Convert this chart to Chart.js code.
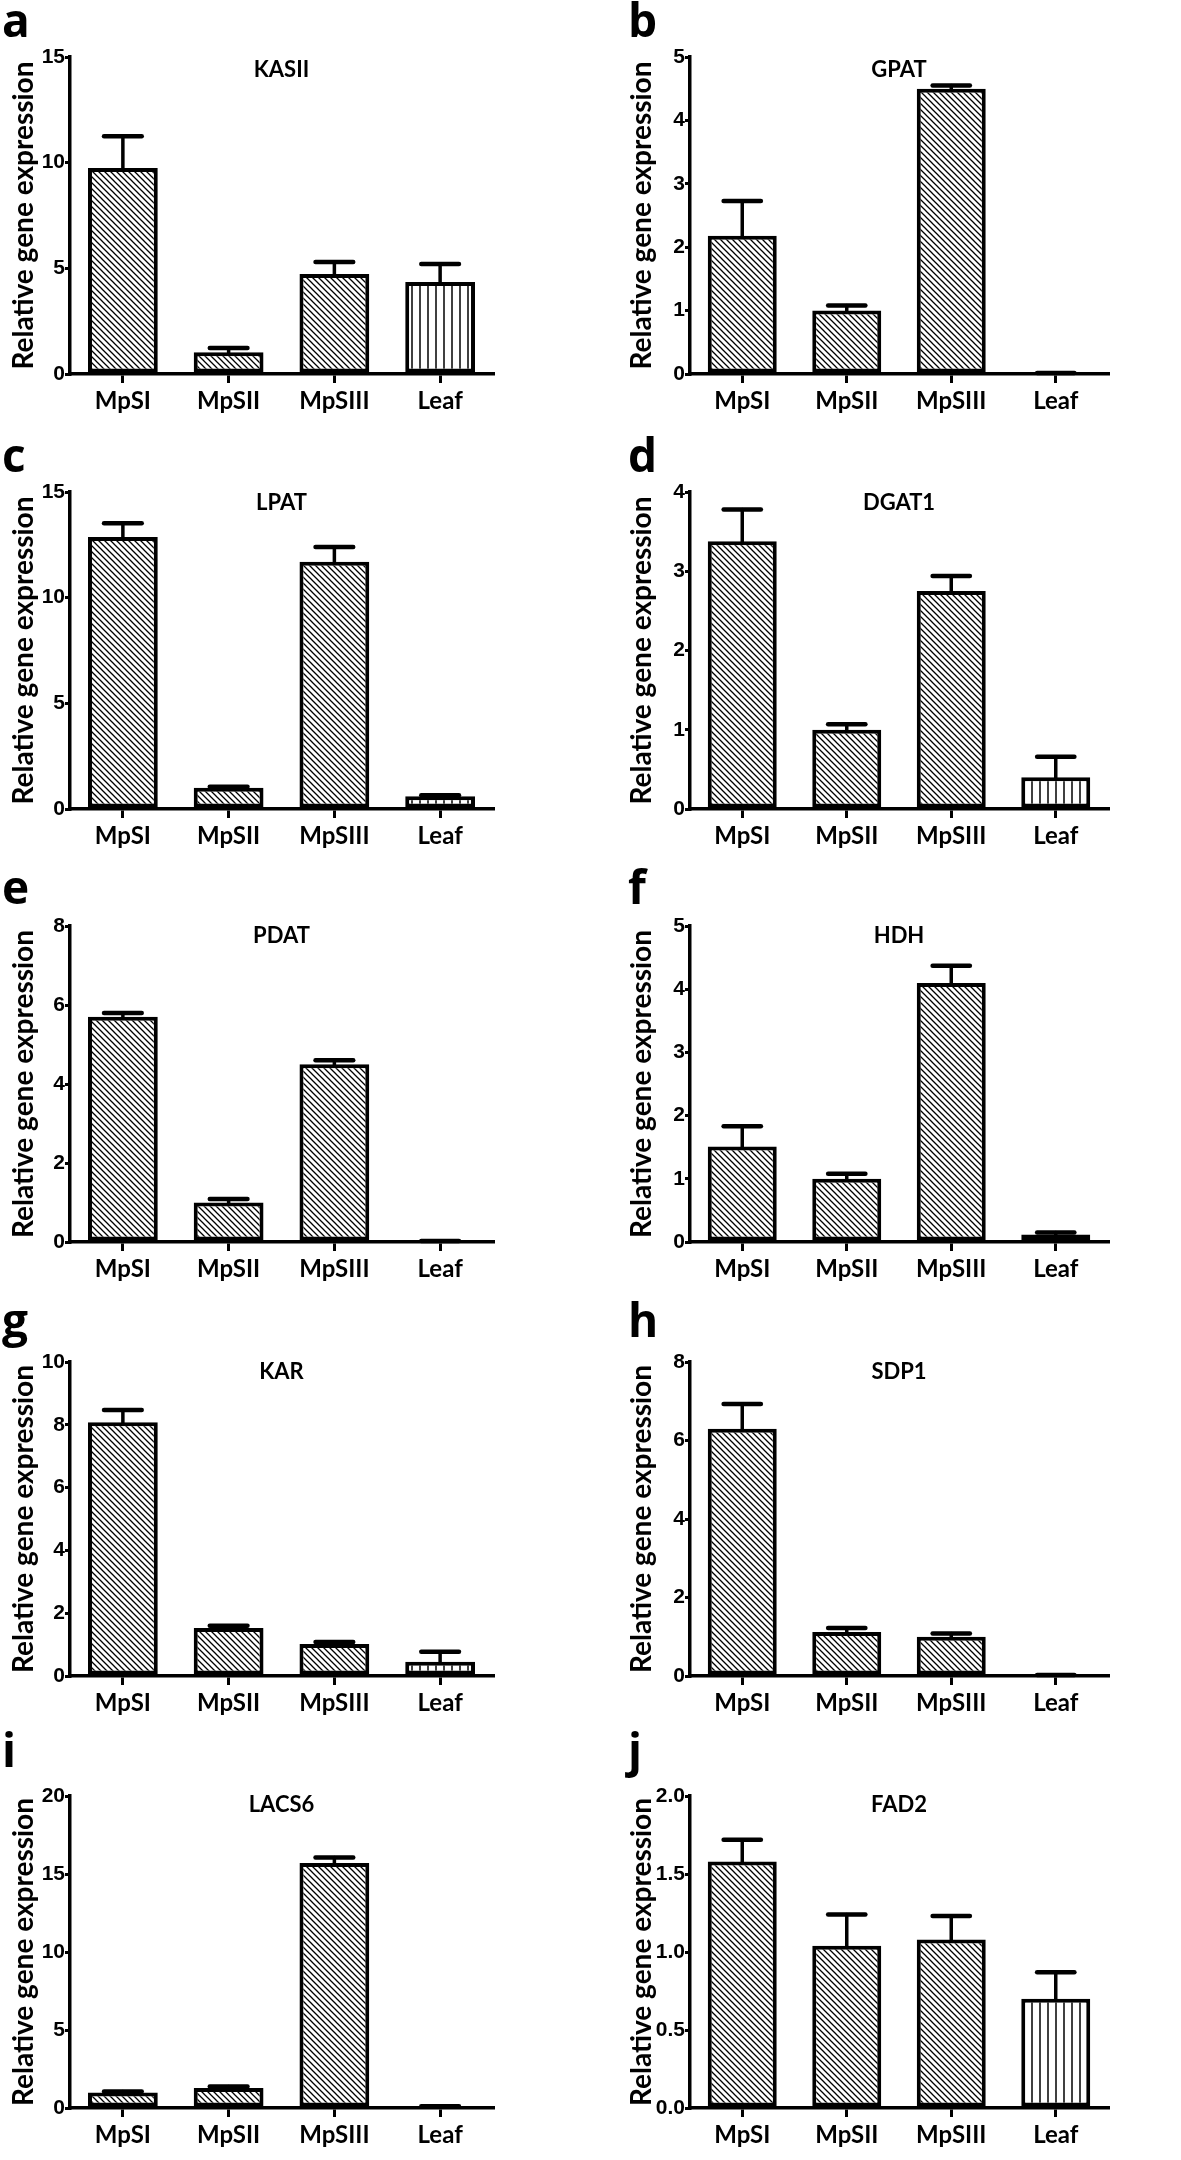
<!DOCTYPE html>
<html>
<head>
<meta charset="utf-8">
<script src="https://cdn.jsdelivr.net/npm/chart.js@4.4.0/dist/chart.umd.min.js"></script>
<style>
  html, body { margin: 0; padding: 0; background: #fff; }
  #page { position: relative; width: 1181px; height: 2160px; overflow: hidden; background: #fff; }
  #page canvas { position: absolute; }
</style>
</head>
<body>
<div id="page"></div>
<script>
// categories
const groups = ['MpSI', 'MpSII', 'MpSIII', 'Leaf'];

// mean relative expression and error (upper bar) per gene
const kasii = [9.75, 1.03, 4.73, 4.35];
const kasiiErr = [1.5, 0.2, 0.57, 0.85];
const gpat = [2.18, 1.0, 4.5, 0.01];
const gpatErr = [0.55, 0.08, 0.05, 0.005];
const lpat = [12.87, 1.0, 11.7, 0.6];
const lpatErr = [0.65, 0.05, 0.7, 0.05];
const dgat1 = [3.38, 1.0, 2.75, 0.4];
const dgat1Err = [0.4, 0.07, 0.19, 0.26];
const pdat = [5.7, 1.0, 4.5, 0.02];
const pdatErr = [0.1, 0.09, 0.1, 0.005];
const hdh = [1.51, 1.0, 4.1, 0.12];
const hdhErr = [0.32, 0.08, 0.27, 0.03];
const kar = [8.08, 1.53, 1.02, 0.45];
const karErr = [0.39, 0.07, 0.06, 0.32];
const sdp1 = [6.3, 1.12, 1.0, 0.02];
const sdp1Err = [0.63, 0.1, 0.08, 0.005];
const lacs6 = [1.0, 1.28, 15.7, 0.1];
const lacs6Err = [0.05, 0.1, 0.35, 0.02];
const fad2 = [1.58, 1.04, 1.08, 0.7];
const fad2Err = [0.14, 0.2, 0.15, 0.17];

const genes = ['KASII', 'GPAT', 'LPAT', 'DGAT1', 'PDAT', 'HDH', 'KAR', 'SDP1', 'LACS6', 'FAD2'];
const letters = ['a', 'b', 'c', 'd', 'e', 'f', 'g', 'h', 'i', 'j'];
const means = [kasii, gpat, lpat, dgat1, pdat, hdh, kar, sdp1, lacs6, fad2];
const errs = [kasiiErr, gpatErr, lpatErr, dgat1Err, pdatErr, hdhErr, karErr, sdp1Err, lacs6Err, fad2Err];

// y axis ranges / tick steps
const yMax = [15, 5, 15, 4, 8, 5, 10, 8, 20, 2];
const yStep = [5, 1, 5, 1, 2, 1, 2, 2, 5, 0.5];
const yDecimals = [0, 0, 0, 0, 0, 0, 0, 0, 0, 1];

// layout of the 5 rows (page pixels)
const rowPlotTop = [57, 492, 926, 1362, 1796];
const rowPlotBottom = [374, 809, 1242, 1676, 2108];
const rowLetterBase = [37, 472, 904, 1337, 1767];
const rowTitleOffset = [20, 18, 17, 17, 16];

function hatchPattern(kind) {
  const c = document.createElement('canvas');
  const s = kind === 'diag' ? 6 : 8;
  c.width = s; c.height = s;
  const g = c.getContext('2d');
  g.fillStyle = '#fff';
  g.fillRect(0, 0, s, s);
  g.strokeStyle = '#000';
  g.lineWidth = kind === 'diag' ? 1.3 : 1.5;
  g.beginPath();
  if (kind === 'diag') {
    g.moveTo(-1, -1); g.lineTo(s + 1, s + 1);
    g.moveTo(-1, s - 1); g.lineTo(1, s + 1);
    g.moveTo(s - 1, -1); g.lineTo(s + 1, 1);
  } else {
    g.moveTo(s / 2, 0); g.lineTo(s / 2, s);
  }
  g.stroke();
  return g.createPattern(c, 'repeat');
}

const errorBars = {
  id: 'errorBars',
  afterDatasetsDraw(chart) {
    const ds = chart.data.datasets[0];
    const meta = chart.getDatasetMeta(0);
    const y = chart.scales.y;
    const ctx = chart.ctx;
    ctx.save();
    ctx.strokeStyle = '#000';
    ctx.lineCap = 'round';
    meta.data.forEach((bar, i) => {
      const top = y.getPixelForValue(ds.data[i] + ds.errors[i]);
      const half = bar.width * 0.27;
      ctx.lineWidth = 3.5;
      ctx.beginPath();
      ctx.moveTo(bar.x, bar.y);
      ctx.lineTo(bar.x, top);
      ctx.stroke();
      ctx.lineWidth = 4.5;
      ctx.beginPath();
      ctx.moveTo(bar.x - half, top);
      ctx.lineTo(bar.x + half, top);
      ctx.stroke();
    });
    ctx.restore();
  }
};

const panelText = {
  id: 'panelText',
  afterDraw(chart, args, opts) {
    const { ctx, chartArea } = chart;
    ctx.save();
    ctx.fillStyle = '#000';
    ctx.textBaseline = 'alphabetic';
    ctx.textAlign = 'left';
    ctx.font = 'bold 46px "Open Sans"';
    ctx.fillText(opts.letter, opts.letterX, opts.letterY);
    ctx.textAlign = 'center';
    ctx.font = 'bold 22px Lato';
    ctx.fillText(opts.gene, (chartArea.left + chartArea.right) / 2, chartArea.top + opts.titleOffset);
    ctx.restore();
  }
};

const TOP_PAD = 80;

function makePanel(i) {
  const row = Math.floor(i / 2);
  const col = i % 2;
  const plotH = rowPlotBottom[row] - rowPlotTop[row];
  const top = rowPlotTop[row] - TOP_PAD;
  const left = col ? 620 : 0;
  const axisW = 70;
  const plotW = col ? 418 : 423;
  const W = 561;
  const H = TOP_PAD + plotH + 56;

  const cv = document.createElement('canvas');
  cv.width = W; cv.height = H;
  cv.style.left = left + 'px';
  cv.style.top = top + 'px';
  cv.style.width = W + 'px';
  cv.style.height = H + 'px';
  document.getElementById('page').appendChild(cv);

  const diag = hatchPattern('diag');
  const vert = hatchPattern('vert');

  new Chart(cv, {
    type: 'bar',
    data: {
      labels: groups,
      datasets: [{
        data: means[i],
        errors: errs[i],
        backgroundColor: [diag, diag, diag, vert],
        borderColor: '#000',
        borderWidth: 4,
        borderSkipped: false,
        barPercentage: 0.66,
        categoryPercentage: 1
      }]
    },
    options: {
      responsive: false,
      animation: false,
      devicePixelRatio: 1,
      layout: { padding: { top: TOP_PAD, left: 0, bottom: 0, right: W - axisW - plotW } },
      plugins: {
        legend: { display: false },
        tooltip: { enabled: false },
        panelText: { letter: letters[i], gene: genes[i], letterX: col ? 8 : 2,
                     letterY: rowLetterBase[row] - top, titleOffset: rowTitleOffset[row] }
      },
      scales: {
        x: {
          afterFit: s => { s.height = 56; },
          grid: { display: true, drawOnChartArea: false, drawTicks: true, tickLength: 9,
                  offset: false, color: '#000', lineWidth: 3 },
          border: { display: true, color: '#000', width: 3.5 },
          ticks: { color: '#000', padding: 4, font: { family: 'Lato', weight: 'bold', size: 24 } }
        },
        y: {
          min: 0,
          max: yMax[i],
          afterFit: s => { s.width = axisW; },
          grid: { display: true, drawOnChartArea: false, drawTicks: true, tickLength: 5,
                  color: '#000', lineWidth: 3 },
          border: { display: true, color: '#000', width: 3.5 },
          ticks: {
            stepSize: yStep[i],
            color: '#000',
            padding: 0,
            font: { family: 'Liberation Sans', weight: 'bold', size: 21 },
            callback: v => Number(v).toFixed(yDecimals[i])
          },
          title: {
            display: true,
            text: 'Relative gene expression',
            color: '#000',
            padding: { top: col ? 5 : 7, bottom: 0 },
            font: { family: 'Lato', weight: 'bold', size: 28 }
          }
        }
      }
    },
    plugins: [errorBars, panelText]
  });
}

for (let i = 0; i < 10; i++) makePanel(i);
</script>
</body>
</html>
